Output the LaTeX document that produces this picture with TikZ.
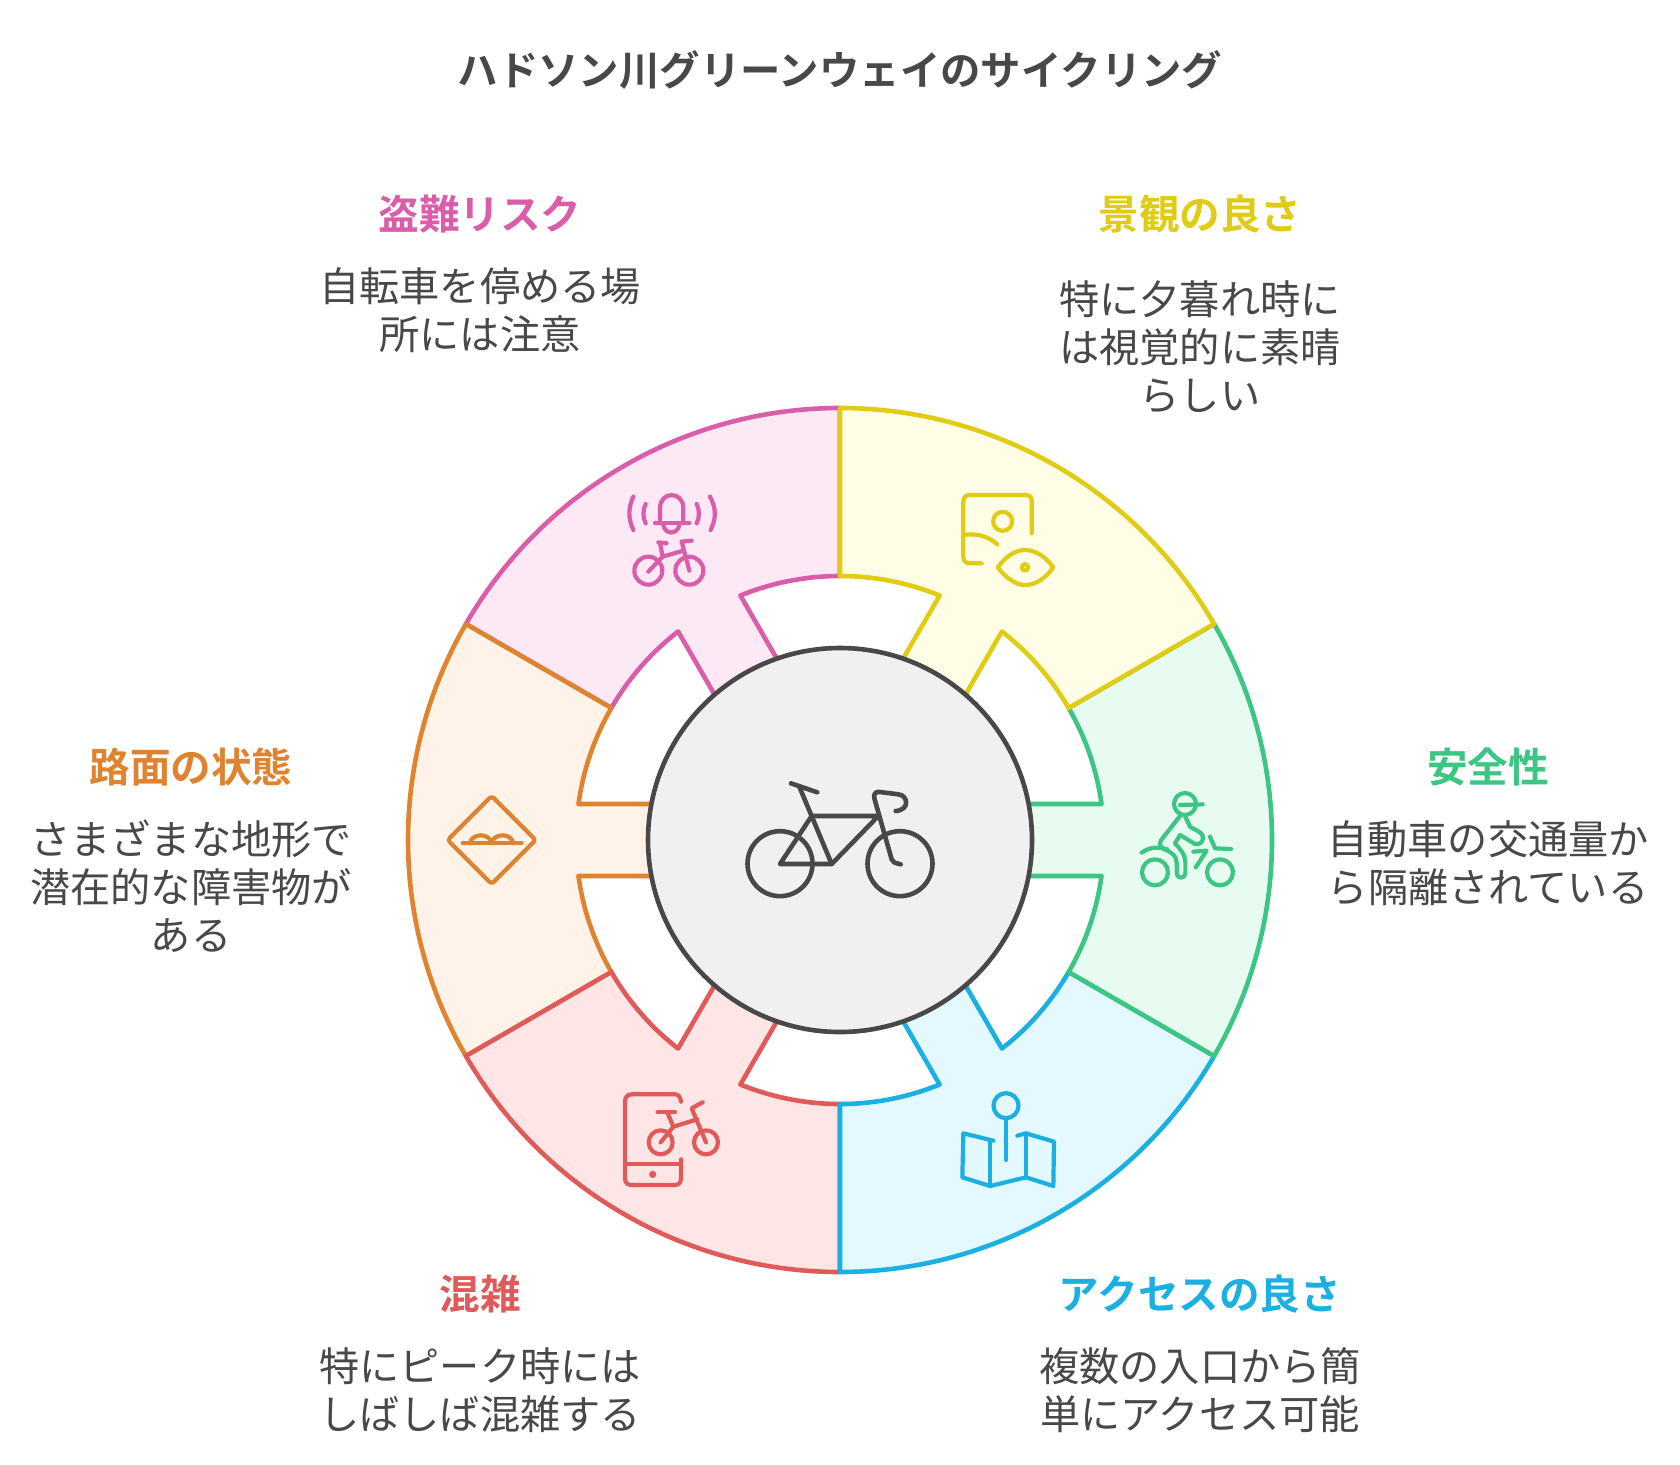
\documentclass[tikz,border=0pt]{standalone}
\usepackage{fontspec}
\setmainfont{Noto Sans CJK JP}[BoldFont={Noto Sans CJK JP Bold}]
\definecolor{txt}{HTML}{484848}
\definecolor{pinkS}{HTML}{D95DA8}\definecolor{pinkF}{HTML}{FDE8F6}
\definecolor{yelS}{HTML}{E0CB15}\definecolor{yelF}{HTML}{FFFDE6}
\definecolor{grnS}{HTML}{3CC583}\definecolor{grnF}{HTML}{E8FBF1}
\definecolor{bluS}{HTML}{1CB0E2}\definecolor{bluF}{HTML}{E3F9FF}
\definecolor{redS}{HTML}{E05A5A}\definecolor{redF}{HTML}{FFE6E6}
\definecolor{ornS}{HTML}{DE8431}\definecolor{ornF}{HTML}{FFF2E8}
\definecolor{ctrF}{HTML}{F0F0F0}
\tikzset{
  titletext/.style={font=\fontsize{40.4}{48}\selectfont\bfseries,text=txt,inner sep=0pt},
  headtext/.style={font=\fontsize{40.6}{48}\selectfont\bfseries,inner sep=0pt,align=center},
  bodytext/.style={font=\fontsize{40.2}{48}\selectfont,text=txt,inner sep=0pt,align=center},
  icon/.style={line width=4.2pt,line cap=round,line join=round},
  iconbox/.style={x=0.33333pt,y=-0.33333pt},
}
\newcommand{\ringsector}[3]{%
  \draw[draw=#3,fill=#2,line width=4.6pt,line join=round]
    ({#1-30}:432) arc[start angle={#1-30},end angle={#1+30},radius=432pt]
    -- ({#1+30}:264) arc[start angle={#1+30},end angle={#1+7.83},radius=264pt]
    -- ({#1+10.8}:192) -- ({#1-10.8}:192) -- ({#1-7.83}:264)
    arc[start angle={#1-7.83},end angle={#1-30},radius=264pt] -- cycle;}
\begin{document}
\begin{tikzpicture}[x=1pt,y=1pt]
\fill[white] (0,0) rectangle (1680,-1464);
\useasboundingbox (0,0) rectangle (1680,-1464);
% ring
\begin{scope}[shift={(840,-840)}]
  \ringsector{120}{pinkF}{pinkS}
  \ringsector{180}{ornF}{ornS}
  \ringsector{240}{redF}{redS}
  \ringsector{300}{bluF}{bluS}
  \ringsector{0}{grnF}{grnS}
  \ringsector{60}{yelF}{yelS}
  \draw[draw=txt,fill=ctrF,line width=4.6pt] (0,0) circle[radius=192pt];
\end{scope}
% centre bicycle
\begin{scope}[shift={(730,-770)},iconbox,draw=txt,icon,line width=4.6pt]
  \draw (150,281) circle[radius=32.5pt];
  \draw (510,281) circle[radius=32.5pt];
  \draw (150,282) -- (305,282) -- (445,138) -- (245,138) -- cycle;
  \draw (305,282) -- (208,50);
  \draw (183,40) -- (262,67);
  \draw (512,283) .. controls (495,278) and (487,278) .. (485,268) -- (433,85) .. controls (430,70) and (438,64) .. (450,66) -- (505,73) .. controls (535,76) and (540,120) .. (497,123);
\end{scope}
% pink icon
\begin{scope}[shift={(600,-480)},iconbox,draw=pinkS,icon]
  \draw (100,50) .. controls (84,85) and (84,115) .. (100,150);
  \draw (137,72) .. controls (128,90) and (128,112) .. (137,130);
  \draw (290,72) .. controls (299,90) and (299,112) .. (290,130);
  \draw (330,50) .. controls (349,85) and (349,115) .. (332,150);
  \draw (180,130) -- (180,85) .. controls (180,32) and (250,32) .. (250,85) -- (250,130);
  \draw (165,130) -- (268,130);
  \draw (190,135) .. controls (195,165) and (232,165) .. (238,135);
  \draw (145,272) circle[radius=14pt];
  \draw (268,272) circle[radius=14pt];
  \draw (145,275) -- (188,230) -- (250,212);
  \draw (188,230) -- (180,190);
  \draw (175,187) -- (200,190);
  \draw (268,272) -- (245,185);
  \draw (245,185) -- (275,182);
\end{scope}
% yellow icon
\begin{scope}[shift={(950,-480)},iconbox,draw=yelS,icon]
  \draw (245,160) -- (245,62) .. controls (245,50) and (238,45) .. (225,45) -- (60,45) .. controls (47,45) and (40,52) .. (40,65) -- (40,230) .. controls (40,243) and (47,250) .. (60,250) -- (95,250);
  \draw (158,124) circle[radius=9.5pt];
  \draw (40,165) .. controls (75,160) and (110,165) .. (142,193);
  \draw (143,262) .. controls (170,225) and (200,210) .. (225,210) .. controls (255,210) and (285,228) .. (310,262) .. controls (285,297) and (255,315) .. (225,315) .. controls (200,315) and (170,297) .. (143,262) -- cycle;
  \draw (225,262) circle[radius=3.2pt];
\end{scope}
% green icon
\begin{scope}[shift={(1130,-780)},iconbox,draw=grnS,icon]
  \draw (165,72) circle[radius=11pt];
  \draw (150,75) -- (218,73);
  \draw (75,277) circle[radius=13pt];
  \draw (270,277) circle[radius=13pt];
  \draw (35,218) .. controls (60,200) and (85,200) .. (112,208);
  \draw (240,170) -- (255,205) -- (303,207);
  \draw (150,108) -- (92,182) .. controls (85,195) and (95,205) .. (108,210) .. controls (130,220) and (140,230) .. (140,250) -- (140,280) .. controls (140,297) and (166,297) .. (166,280) -- (166,245) .. controls (166,225) and (150,205) .. (135,190) -- (150,165) -- (195,192) .. controls (210,195) and (222,185) .. (218,168) .. controls (215,155) and (195,150) .. (180,140) -- (165,108);
  \draw (190,215) -- (230,212) -- (197,262);
\end{scope}
% blue icon
\begin{scope}[shift={(950,-1080)},iconbox,draw=bluS,icon]
  \draw (168,77) circle[radius=12.5pt];
  \draw (168,115) -- (168,240);
  \draw (130,182) -- (40,160) -- (37,292) -- (120,318) -- (228,292) -- (310,318) -- (312,185) -- (228,160) -- (202,167);
  \draw (120,185) -- (120,318);
  \draw (228,160) -- (228,292);
\end{scope}
% red icon
\begin{scope}[shift={(610,-1080)},iconbox,draw=redS,icon]
  \draw (213,65) .. controls (211,50) and (205,43) .. (195,43) -- (65,43) .. controls (52,43) and (45,52) .. (45,65) -- (45,295) .. controls (45,308) and (52,315) .. (65,315) -- (193,315) .. controls (206,315) and (213,308) .. (213,295) -- (213,238);
  \draw (45,253) -- (213,253);
  \fill[redS] (128,283) circle[radius=3.6pt];
  \draw (152,187) circle[radius=12pt];
  \draw (288,187) circle[radius=12pt];
  \draw (152,187) -- (190,140) -- (262,118);
  \draw (288,187) -- (245,85) -- (278,67);
  \draw (190,140) -- (172,97);
  \draw (143,97) -- (195,97);
\end{scope}
% orange icon
\begin{scope}[shift={(440,-790)},iconbox,draw=ornS,icon]
  \draw[rounded corners=3pt] (155,18) -- (287,150) -- (155,282) -- (23,150) -- cycle;
  \draw (68,160) -- (245,160);
  \draw (90,160) .. controls (95,128) and (150,128) .. (155,160) .. controls (160,128) and (215,128) .. (220,160);
\end{scope}
% texts
\node[titletext] (title) at (840,-70) {ハドソン川グリーンウェイのサイクリング};
\node[headtext,text=pinkS] (h1) at (480,-214) {盗難リスク};
\node[bodytext] (b1) at (480,-310) {自転車を停める場\\所には注意};
\node[headtext,text=yelS] (h2) at (1200,-214) {景観の良さ};
\node[bodytext] (b2) at (1200,-347) {特に夕暮れ時に\\は視覚的に素晴\\らしい};
\node[headtext,text=grnS] (h3) at (1488,-767) {安全性};
\node[bodytext] (b3) at (1488,-863) {自動車の交通量か\\ら隔離されている};
\node[headtext,text=ornS] (h4) at (191,-767) {路面の状態};
\node[bodytext] (b4) at (191,-886) {さまざまな地形で\\潜在的な障害物が\\ある};
\node[headtext,text=redS] (h5) at (480,-1294) {混雑};
\node[bodytext] (b5) at (480,-1390) {特にピーク時には\\しばしば混雑する};
\node[headtext,text=bluS] (h6) at (1200,-1294) {アクセスの良さ};
\node[bodytext] (b6) at (1200,-1390) {複数の入口から簡\\単にアクセス可能};
\end{tikzpicture}
\end{document}
